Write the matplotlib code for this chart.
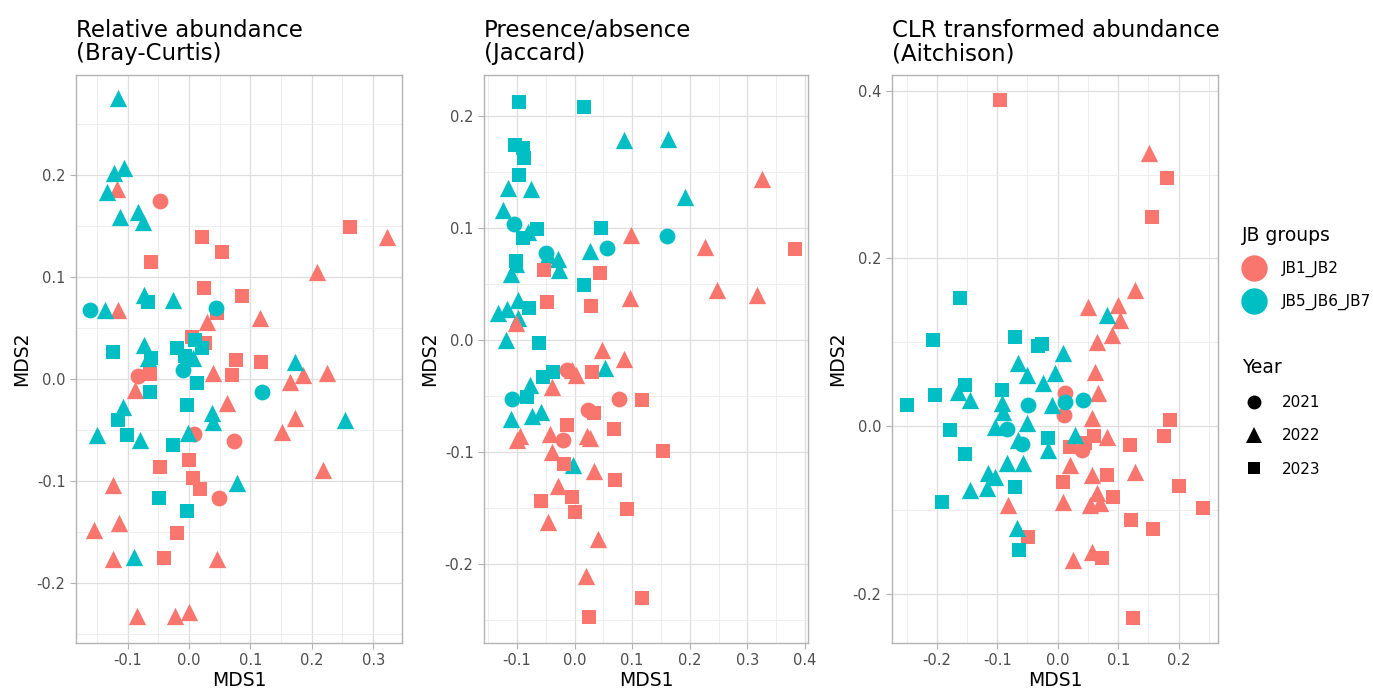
import numpy as np
import matplotlib
matplotlib.use('Agg')
import matplotlib.pyplot as plt
from matplotlib.lines import Line2D
from matplotlib.ticker import MultipleLocator, FormatStrFormatter

plt.rcParams['font.family'] = ['DejaVu Sans']
plt.rcParams['axes.unicode_minus'] = False

RED = '#F8766D'
TEAL = '#00BFC4'
GROUPS = ['JB1_JB2', 'JB5_JB6_JB7']
YEARS = ['2021', '2022', '2023']

# ---- Relative abundance (Bray-Curtis) ----
# red = JB1_JB2, teal = JB5_JB6_JB7 ; c = 2021, t = 2022, s = 2023
bc_red_c_x = [-0.047, -0.083, 0.008, 0.073, 0.049]
bc_red_c_y = [0.174, 0.003, -0.054, -0.061, -0.117]
bc_red_t_x = [-0.117, -0.116, 0.029, 0.116, 0.209, 0.323, 0.039, 0.165, 0.186, 0.225, -0.088, 0.062,
              0.173, 0.152, 0.219, -0.124, -0.155, -0.114, -0.124, 0.046, -0.085, -0.023, 0.0]
bc_red_t_y = [0.186, 0.068, 0.056, 0.060, 0.105, 0.139, 0.006, -0.003, 0.004, 0.006, -0.011, -0.024,
              -0.038, -0.052, -0.089, -0.104, -0.148, -0.141, -0.177, -0.177, -0.233, -0.233, -0.229]
bc_red_s_x = [-0.064, -0.062, 0.021, 0.054, 0.024, 0.086, 0.263, 0.046, 0.005, 0.026, 0.077, 0.070,
              0.117, -0.047, 0.0, 0.007, 0.018, -0.020, -0.041]
bc_red_s_y = [0.005, 0.115, 0.139, 0.124, 0.089, 0.081, 0.149, 0.065, 0.041, 0.035, 0.019, 0.004,
              0.017, -0.086, -0.080, -0.097, -0.108, -0.151, -0.176]
bc_teal_c_x = [-0.161, 0.044, -0.010, 0.119]
bc_teal_c_y = [0.068, 0.070, 0.009, -0.013]
bc_teal_t_x = [-0.116, -0.122, -0.106, -0.134, -0.113, -0.083, -0.075, -0.073, -0.026, -0.137, -0.073, -0.067,
               0.007, 0.173, -0.108, -0.150, -0.080, 0.038, 0.039, -0.002, 0.078, 0.254, -0.090]
bc_teal_t_y = [0.275, 0.202, 0.207, 0.183, 0.159, 0.164, 0.154, 0.082, 0.077, 0.068, 0.033, 0.020,
               0.020, 0.017, -0.028, -0.055, -0.060, -0.033, -0.042, -0.053, -0.102, -0.040, -0.175]
bc_teal_s_x = [-0.124, -0.067, -0.064, -0.062, 0.013, -0.003, -0.116, -0.101, -0.026, -0.049, -0.003,
               -0.020, 0.010, 0.021, -0.007]
bc_teal_s_y = [0.026, 0.075, -0.013, 0.020, -0.004, -0.026, -0.040, -0.055, -0.065, -0.117, -0.130,
               0.030, 0.038, 0.030, 0.022]

# ---- Presence/absence (Jaccard) ----
ja_red_c_x = [-0.013, 0.077, 0.024, -0.020]
ja_red_c_y = [-0.027, -0.053, -0.063, -0.089]
ja_red_t_x = [0.325, 0.098, 0.226, 0.247, 0.317, 0.096, -0.101, 0.048, 0.086, -0.004, 0.003, -0.039,
              -0.095, -0.100, -0.042, 0.021, 0.027, -0.039, 0.034, -0.029, -0.046, 0.041, 0.020]
ja_red_t_y = [0.144, 0.094, 0.083, 0.045, 0.040, 0.038, 0.015, -0.009, -0.017, -0.027, -0.031, -0.042,
              -0.086, -0.089, -0.084, -0.086, -0.088, -0.100, -0.117, -0.131, -0.163, -0.178, -0.211]
ja_red_s_x = [0.382, -0.053, 0.044, -0.048, 0.029, 0.030, 0.117, 0.034, -0.013, 0.068, 0.154, -0.018,
              0.070, -0.058, -0.004, 0.0, 0.091, 0.117, 0.025]
ja_red_s_y = [0.081, 0.063, 0.060, 0.034, 0.030, -0.029, -0.054, -0.065, -0.076, -0.080, -0.099, -0.111,
              -0.125, -0.144, -0.140, -0.154, -0.151, -0.231, -0.248]
ja_teal_c_x = [-0.105, 0.056, 0.160, -0.049, -0.108]
ja_teal_c_y = [0.104, 0.082, 0.093, 0.078, -0.053]
ja_teal_t_x = [0.086, 0.162, 0.191, -0.115, -0.076, -0.124, -0.046, -0.029, -0.027, 0.027, -0.110, -0.098,
               -0.132, -0.117, -0.098, -0.119, 0.053, -0.077, -0.111, -0.074, -0.058, -0.003, -0.101, -0.080]
ja_teal_t_y = [0.179, 0.180, 0.128, 0.136, 0.135, 0.116, 0.076, 0.072, 0.063, 0.080, 0.059, 0.036,
               0.024, 0.028, 0.020, 0.0, -0.025, -0.040, -0.071, -0.068, -0.064, -0.112, 0.068, 0.097]
ja_teal_s_x = [-0.096, 0.016, -0.103, -0.089, -0.088, -0.096, -0.065, -0.089, 0.046, -0.101, 0.016, -0.079,
               -0.062, -0.055, -0.037, -0.082]
ja_teal_s_y = [0.213, 0.208, 0.174, 0.172, 0.163, 0.148, 0.099, 0.091, 0.100, 0.071, 0.049, 0.029,
               -0.003, -0.033, -0.029, -0.051]

# ---- CLR transformed abundance (Aitchison) ----
ai_red_c_x = [0.012, 0.011, 0.040]
ai_red_c_y = [0.039, 0.013, -0.029]
ai_red_t_x = [0.151, 0.128, 0.050, 0.100, 0.103, 0.090, 0.065, 0.062, 0.067, 0.057, 0.082, 0.020,
              0.057, 0.128, 0.009, -0.082, 0.065, 0.053, 0.070, 0.026, 0.057]
ai_red_t_y = [0.326, 0.162, 0.142, 0.144, 0.127, 0.109, 0.100, 0.064, 0.039, 0.010, -0.013, -0.047,
              -0.059, -0.055, -0.091, -0.094, -0.080, -0.094, -0.092, -0.160, -0.150]
ai_red_s_x = [-0.096, 0.181, 0.156, 0.020, 0.045, 0.060, 0.120, 0.176, 0.186, 0.009, 0.082, 0.092,
              0.200, 0.241, 0.121, 0.158, -0.049, 0.073, 0.125]
ai_red_s_y = [0.389, 0.296, 0.250, -0.025, -0.020, -0.012, -0.023, -0.012, 0.007, -0.067, -0.058, -0.085,
              -0.072, -0.098, -0.112, -0.123, -0.133, -0.158, -0.229]
ai_teal_c_x = [-0.049, -0.084, -0.059, 0.012, 0.042]
ai_teal_c_y = [0.025, -0.003, -0.021, 0.029, 0.031]
ai_teal_t_x = [0.082, 0.009, -0.066, -0.051, -0.004, -0.024, -0.165, -0.145, -0.092, -0.090, -0.010, -0.051,
               -0.104, -0.066, -0.016, 0.029, -0.084, -0.057, -0.115, -0.104, -0.145, -0.117, -0.068]
ai_teal_t_y = [0.133, 0.087, 0.075, 0.061, 0.063, 0.051, 0.041, 0.031, 0.027, 0.017, 0.025, 0.004,
               -0.001, -0.017, -0.029, -0.011, -0.044, -0.044, -0.056, -0.061, -0.076, -0.074, -0.122]
ai_teal_s_x = [-0.207, -0.071, -0.033, -0.026, -0.250, -0.203, -0.153, -0.092, -0.178, -0.153, -0.016,
               -0.071, -0.192, -0.064, -0.161]
ai_teal_s_y = [0.103, 0.106, 0.095, 0.098, 0.025, 0.037, 0.049, 0.043, -0.005, -0.033, -0.014,
               -0.073, -0.091, -0.148, 0.153]

panels = [
    ('Relative abundance\n(Bray-Curtis)',
     [(bc_red_c_x, bc_red_c_y, RED, 'o'), (bc_red_t_x, bc_red_t_y, RED, '^'), (bc_red_s_x, bc_red_s_y, RED, 's'),
      (bc_teal_c_x, bc_teal_c_y, TEAL, 'o'), (bc_teal_t_x, bc_teal_t_y, TEAL, '^'), (bc_teal_s_x, bc_teal_s_y, TEAL, 's')],
     (-0.184, 0.347), (-0.259, 0.298), 0.1, 0.1),
    ('Presence/absence\n(Jaccard)',
     [(ja_teal_c_x, ja_teal_c_y, TEAL, 'o'), (ja_teal_t_x, ja_teal_t_y, TEAL, '^'), (ja_teal_s_x, ja_teal_s_y, TEAL, 's'),
      (ja_red_c_x, ja_red_c_y, RED, 'o'), (ja_red_t_x, ja_red_t_y, RED, '^'), (ja_red_s_x, ja_red_s_y, RED, 's')],
     (-0.157, 0.405), (-0.271, 0.237), 0.1, 0.1),
    ('CLR transformed abundance\n(Aitchison)',
     [(ai_red_c_x, ai_red_c_y, RED, 'o'), (ai_red_t_x, ai_red_t_y, RED, '^'), (ai_red_s_x, ai_red_s_y, RED, 's'),
      (ai_teal_c_x, ai_teal_c_y, TEAL, 'o'), (ai_teal_t_x, ai_teal_t_y, TEAL, '^'), (ai_teal_s_x, ai_teal_s_y, TEAL, 's')],
     (-0.274, 0.265), (-0.259, 0.419), 0.1, 0.2),
]

# marker area (pt^2) per shape, ggplot shapes 16/17/15
SIZES = {'o': 130, '^': 155, 's': 112}

fig = plt.figure(figsize=(13.73, 6.89), dpi=100)
lefts = [76, 484, 892]
widths = [326, 324, 326]
W, H = 1373, 689

for (title, series, xlim, ylim, xstep, ystep), l, w in zip(panels, lefts, widths):
    ax = fig.add_axes([l / W, 46 / H, w / W, 568 / H])
    for xs, ys, col, mk in series:
        ax.scatter(xs, ys, s=SIZES[mk], c=col, marker=mk, linewidths=0, zorder=3)
    ax.set_xlim(*xlim)
    ax.set_ylim(*ylim)
    ax.xaxis.set_major_locator(MultipleLocator(xstep))
    ax.xaxis.set_minor_locator(MultipleLocator(xstep / 2))
    ax.yaxis.set_major_locator(MultipleLocator(ystep))
    ax.yaxis.set_minor_locator(MultipleLocator(ystep / 2))
    ax.xaxis.set_major_formatter(FormatStrFormatter('%.1f'))
    ax.yaxis.set_major_formatter(FormatStrFormatter('%.1f'))
    ax.grid(True, which='major', color='#DEDEDE', linewidth=0.9)
    ax.grid(True, which='minor', color='#EBEBEB', linewidth=0.6)
    ax.set_axisbelow(True)
    for sp in ax.spines.values():
        sp.set_color('#B3B3B3')
        sp.set_linewidth(1.0)
    ax.tick_params(which='major', length=4, color='#B3B3B3', labelsize=10.5, labelcolor='#4D4D4D')
    ax.tick_params(which='minor', length=0)
    ax.set_xlabel('MDS1', fontsize=13.5, labelpad=2)
    ax.set_ylabel('MDS2', fontsize=13.5, labelpad=4)
    ax.set_title(title, loc='left', fontsize=16.5, pad=10.5, linespacing=1.05)

grp_handles = [Line2D([], [], marker='o', color='none', markerfacecolor=c, markeredgewidth=0,
                      markersize=19) for c in (RED, TEAL)]
leg1 = fig.legend(grp_handles, GROUPS, title='JB groups', loc='upper left',
                  bbox_to_anchor=(1228 / W, 1 - 212 / H), frameon=False, fontsize=11,
                  title_fontsize=13.5, alignment='left', labelspacing=1.08,
                  handletextpad=1.0, handlelength=1.6)
yr_handles = [Line2D([], [], marker=m, color='none', markerfacecolor='black', markeredgewidth=0,
                     markersize=ms) for m, ms in (('o', 10), ('^', 11), ('s', 9))]
leg2 = fig.legend(yr_handles, YEARS, title='Year', loc='upper left',
                  bbox_to_anchor=(1228 / W, 1 - 344 / H), frameon=False, fontsize=11,
                  title_fontsize=13.5, alignment='left', labelspacing=1.2,
                  handletextpad=1.0, handlelength=1.6)

plt.savefig('out.png', dpi=100)
